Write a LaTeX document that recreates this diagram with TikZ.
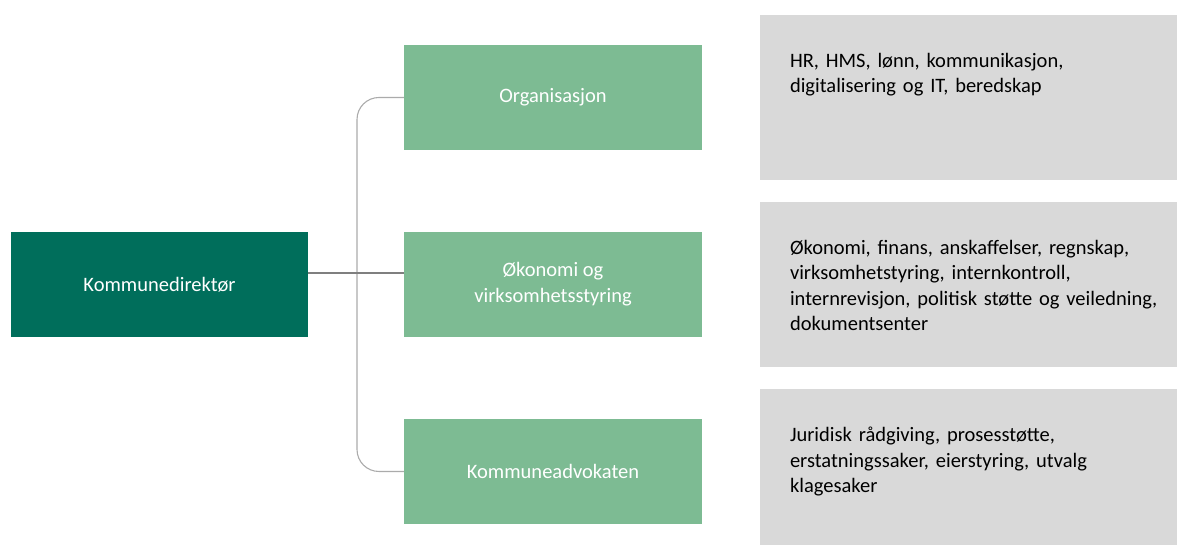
\documentclass[tikz,border=0pt]{standalone}
\usepackage{fontspec}
\setmainfont{Carlito}
\usetikzlibrary{positioning}

\definecolor{dirgreen}{HTML}{006E5B}
\definecolor{unitgreen}{HTML}{7DBB93}
\definecolor{infogray}{HTML}{D9D9D9}
\definecolor{linegray}{HTML}{ABABAB}
\definecolor{maingray}{HTML}{7F7F7F}

\tikzset{
    dirbox/.style={fill=dirgreen, text=white, minimum width=297, minimum height=105, inner sep=0pt, font=\fontsize{20.5}{26}\selectfont, align=center},
    unitbox/.style={fill=unitgreen, text=white, minimum width=298, minimum height=105, inner sep=0pt, font=\fontsize{20.5}{26}\selectfont, align=center},
    infobox/.style={fill=infogray, minimum width=417, inner sep=0pt},
    infotext/.style={anchor=north west, inner sep=0pt, text width=385, align=left, font=\fontsize{20.5}{25.5}\selectfont},
    conn/.style={line width=1.1pt}
}

\begin{document}
\begin{tikzpicture}[x=1pt, y=1pt]
    \useasboundingbox (0,0) rectangle (1177,545);

    % director and units
    \node[dirbox] (dir) at (159.5,260.5) {Kommunedirektør};
    \node[unitbox] (org) at (553,447.5) {Organisasjon};
    \node[unitbox] (oko) at (553,260.5) {Økonomi og\\virksomhetsstyring};
    \node[unitbox] (adv) at (553,73.5) {Kommuneadvokaten};

    % info panels
    \node[infobox, minimum height=165] (orginfo) at (968.5,447.5) {};
    \node[infobox, minimum height=165] (okoinfo) at (968.5,260.5) {};
    \node[infobox, minimum height=156] (advinfo) at (968.5,78) {};

    \node[infotext] (orgtext) at ([shift={(30,-38)}]orginfo.north west)
        {HR, HMS, lønn, kommunikasjon,\\digitalisering og IT, beredskap};
    \node[infotext] (okotext) at ([shift={(30,-38)}]okoinfo.north west)
        {Økonomi, finans, anskaffelser, regnskap,\\virksomhetstyring, internkontroll,\\internrevisjon, politisk støtte og veiledning,\\dokumentsenter};
    \node[infotext] (advtext) at ([shift={(30,-38)}]advinfo.north west)
        {Juridisk rådgiving, prosesstøtte,\\erstatningssaker, eierstyring, utvalg\\klagesaker};

    % connectors
    \coordinate (bus) at (357,272);
    \draw[conn, linegray, rounded corners=22] (org.west) -| (bus) |- (adv.west);
    \draw[conn, maingray] (dir.east |- bus) -- (oko.west |- bus);
\end{tikzpicture}
\end{document}
